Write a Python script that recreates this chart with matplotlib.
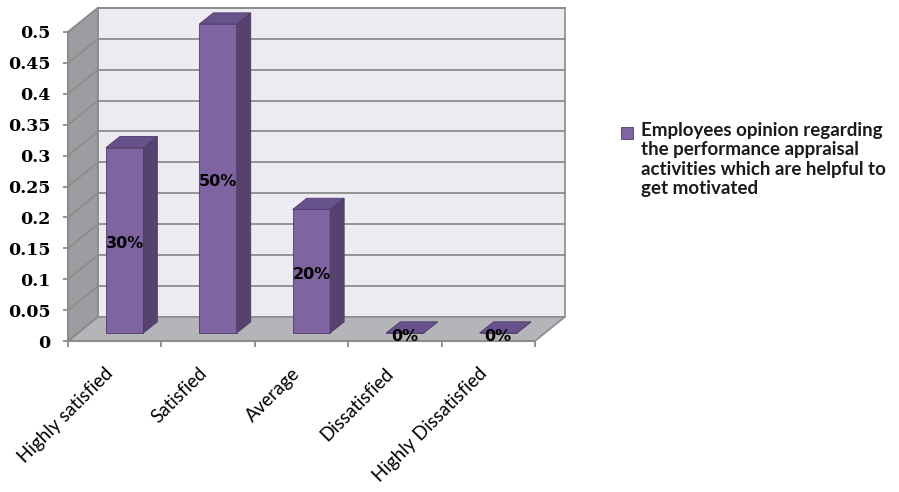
import matplotlib.pyplot as plt
from matplotlib.patches import Polygon, Rectangle
from matplotlib.ticker import FuncFormatter

categories = ['Highly satisfied', 'Satisfied', 'Average', 'Dissatisfied',
              'Highly Dissatisfied']
values = [0.30, 0.50, 0.20, 0.0, 0.0]
y_ticks = [0, 0.05, 0.1, 0.15, 0.2, 0.25, 0.3, 0.35, 0.4, 0.45, 0.5]
legend_label = ('Employees opinion regarding\nthe performance appraisal\n'
                'activities which are helpful to\nget motivated')

# pseudo 3d geometry (data units)
DX, DY = 0.32, 0.039          # depth of walls
BX, BY = DX / 3, DY / 3       # front face of bars sits 1/3 deep
SX, SY = 0.15, 0.018          # bar depth
BW = 0.40                     # bar width

FRONT = '#8064a2'
SIDE = '#56426f'
TOP = '#67528c'
EDGE = '#4e3c69'
GRID = '#8c8c8c'

dpi = 100
fig = plt.figure(dpi=dpi, figsize=(899 / dpi, 492 / dpi))
ax = fig.add_axes([68 / 899, 1 - 341 / 492, 467 / 899, 309 / 492])
ax.patch.set_visible(False)

n = len(categories)
x0, x1 = -0.5, n - 0.5
ymax = 0.5
ax.set_xlim(x0, x1)
ax.set_ylim(0, ymax)

# walls and floor
back = Polygon([(x0 + DX, DY), (x1 + DX, DY), (x1 + DX, ymax + DY),
                (x0 + DX, ymax + DY)], closed=True, fc='#ecebf1',
               ec=GRID, lw=1.2, clip_on=False, zorder=1)
left = Polygon([(x0, 0), (x0 + DX, DY), (x0 + DX, ymax + DY), (x0, ymax)],
               closed=True, fc='#9d9da1', ec=GRID, lw=1.2, clip_on=False,
               zorder=1)
floor = Polygon([(x0, 0), (x1, 0), (x1 + DX, DY), (x0 + DX, DY)],
                closed=True, fc='#b5b4b8', ec=GRID, lw=1.2, clip_on=False,
                zorder=1)
for p in (back, left, floor):
    ax.add_patch(p)

for t in y_ticks[1:]:
    ax.plot([x0 + DX, x1 + DX], [t + DY, t + DY], color=GRID, lw=1.3,
            clip_on=False, zorder=2)
for t in y_ticks:
    ax.plot([x0, x0 + DX], [t, t + DY], color=GRID, lw=1.3,
            clip_on=False, zorder=2)

# bars
for i, v in enumerate(values):
    l = i - BW / 2 + BX
    r = i + BW / 2 + BX
    b = BY
    top = v + BY
    ax.add_patch(Rectangle((l, b), BW, v, fc=FRONT, ec=EDGE, lw=0.6,
                           clip_on=False, zorder=3))
    ax.add_patch(Polygon([(r, b), (r + SX, b + SY), (r + SX, top + SY),
                          (r, top)], closed=True, fc=SIDE, ec=EDGE, lw=0.6,
                         clip_on=False, zorder=3))
    ax.add_patch(Polygon([(l, top), (r, top), (r + SX, top + SY),
                          (l + SX, top + SY)], closed=True, fc=TOP, ec=EDGE,
                         lw=0.6, clip_on=False, zorder=3))
    ax.text(i + BX, v / 2 + BY * 0.6, '{:.0%}'.format(v),
            ha='center', va='center', fontsize=11.5, fontweight='bold',
            color='black', family='DejaVu Sans', zorder=4)

# axes
for s in ('top', 'right'):
    ax.spines[s].set_visible(False)
for s in ('left', 'bottom'):
    ax.spines[s].set_color(GRID)
    ax.spines[s].set_linewidth(1.5)
    ax.spines[s].set_zorder(2.5)

ax.set_yticks(y_ticks)
ax.yaxis.set_major_formatter(FuncFormatter(lambda v, p: '%g' % v))
ax.tick_params(axis='y', direction='out', length=3.5, width=1.3,
               color=GRID, pad=9)
for lab in ax.get_yticklabels():
    lab.set_family('DejaVu Serif')
    lab.set_fontweight('bold')
    lab.set_fontsize(12.5)

ax.set_xticks([i - 0.5 for i in range(n + 1)])
ax.set_xticklabels([])
ax.set_xticks([i + 0.02 for i in range(n)], minor=True)
ax.set_xticklabels(categories, minor=True, rotation=45, ha='right',
                   family='Lato', fontsize=13.5)
ax.tick_params(axis='x', which='major', direction='out', length=4,
               width=1.3, color=GRID)
ax.tick_params(axis='x', which='minor', length=0, pad=17)

# legend
fig.patches.append(Rectangle((621 / 899, 1 - 139 / 492), 12 / 899,
                             12 / 492, transform=fig.transFigure,
                             fc=FRONT, ec=EDGE, lw=0.6))
fig.text(641 / 899, 1 - 122 / 492, legend_label, ha='left', va='top',
         fontsize=13.5, fontweight='bold', family='Lato', color='#1a1a1a',
         linespacing=1.17)

fig.savefig('out.png', dpi=dpi)
